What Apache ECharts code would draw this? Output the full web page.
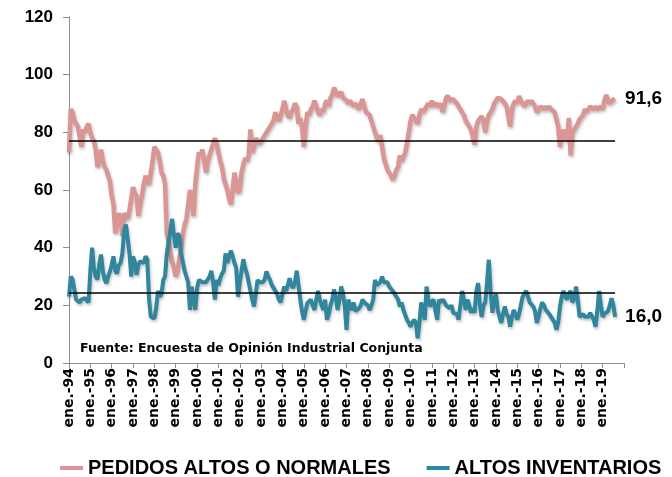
<!DOCTYPE html>
<html>
<head>
<meta charset="utf-8">
<script src="https://cdn.jsdelivr.net/npm/echarts@6/dist/echarts.min.js"></script>
<style>html,body{margin:0;padding:0;background:#fff;}#c{width:672px;height:477px;}</style>
</head>
<body>
<div id="c"></div>
<script>
// Tick labels / categories
const monthNames = ['ene.','feb.','mar.','abr.','may.','jun.','jul.','ago.','sept.','oct.','nov.','dic.'];
const years = ['94','95','96','97','98','99','00','01','02','03','04','05','06','07','08','09','10','11','12','13','14','15','16','17','18','19','20'];
const yTicks = [0, 20, 40, 60, 80, 100, 120];

// Series values (monthly, ene.-94 .. ago.-19)
const pedidos = [
  73, 88, 87, 84, 83, 82, 82, 75, 81, 80, 82, 83,
  80, 78, 77, 74, 68, 70, 74, 70, 68, 67, 65, 63,
  58, 55, 45, 48, 52, 50, 44, 52, 51, 50, 53, 57,
  61, 59, 58, 51, 55, 58, 62, 65, 63, 62, 66, 70,
  75, 74, 73, 70, 66, 65, 62, 45, 42, 38, 35, 33,
  30, 32, 36, 40, 45, 48, 50, 55, 60, 57, 51, 62,
  68, 73, 72, 74, 70, 66, 70, 72, 74, 76, 78, 76,
  73, 70, 68, 64, 62, 60, 57, 55, 60, 66, 63, 59,
  60, 66, 69, 71, 70, 72, 81, 73, 75, 78, 77, 76,
  76, 78, 79, 80, 81, 82, 83, 84, 87, 85, 84, 86,
  88, 91, 88, 86, 85, 87, 88, 90, 89, 83, 85, 82,
  75, 82, 87, 86, 88, 89, 91, 89, 87, 86, 88, 87,
  90, 91, 89, 92, 93, 95.5, 94, 92.6, 93, 94, 92, 92,
  91, 90, 91, 90, 89, 90, 89, 88, 90, 91.5, 89, 87,
  87, 86, 84, 82, 80, 78, 77, 79, 75, 71, 69, 67,
  66, 65, 63.5, 65, 67, 68, 72, 70, 69.5, 73, 76.4, 80,
  84, 86, 85, 84, 83, 86, 88, 87, 88, 89, 90, 89,
  91, 89, 90, 89.7, 89, 90, 87, 89, 92, 92.7, 91, 91.5,
  91.5, 91, 90, 89, 88, 86.9, 86, 84, 83, 82, 81, 81,
  75.8, 82, 84, 84, 85.6, 84, 80, 84, 86, 87, 88, 90,
  91, 92, 92.6, 91.5, 91, 90, 89, 89, 82, 88, 90, 91,
  90, 92.6, 91, 90, 89, 89, 91, 90, 91, 91.5, 89, 86.9,
  88, 89, 89, 88, 89, 88, 89, 88, 88, 87, 84.5, 82,
  75, 81, 77.6, 81, 77, 85, 72, 80, 81, 82, 83, 84.5,
  84, 86, 88, 87, 88, 89, 89, 88, 89, 88, 88, 89,
  88, 91, 93, 91, 90, 91, 91, 91.6
];
const inventarios = [
  23, 30, 29, 29, 22, 22, 21, 22, 22, 22.5, 22, 21,
  32, 40, 33, 30, 29, 34, 37.6, 32, 29, 27.7, 30, 31.8,
  34, 37, 32, 31, 34, 34.7, 38, 46, 48, 43, 38, 30,
  37, 35, 30.6, 34, 35.3, 35, 34.7, 37, 36, 22, 16, 15.5,
  15.5, 19, 25, 23, 24, 28.8, 30, 38, 42, 46, 50, 44,
  40, 45, 44, 38, 35, 32, 30, 28, 18.4, 26.5, 22, 18.4,
  26, 28.8, 29.4, 28, 28, 28, 29, 30, 32, 28, 22, 28.8,
  27, 29.4, 31, 32, 38, 34.7, 35, 39, 37, 34.7, 33, 23,
  28, 32, 36, 33, 31, 28, 25, 22, 19.6, 24, 28.8, 28,
  27.7, 28, 29, 31.8, 30, 28.8, 27, 26.5, 25, 24, 22, 21,
  24, 26.5, 25, 27, 29.4, 27, 26, 28, 32, 27, 22, 18,
  15, 18, 20.8, 21, 22, 20, 18.4, 22, 25, 22, 20, 18.4,
  22, 15, 17, 20, 22, 25.5, 23, 18.4, 22, 26.5, 24, 20,
  11.5, 22, 20, 18.4, 21, 18, 18, 19, 20, 22, 21, 21,
  20, 18.4, 20, 22, 28.8, 27, 26.5, 28, 30, 28, 27.7, 28,
  26.5, 26, 25, 24, 23, 22, 19.6, 21, 18.4, 18, 15, 14,
  12.6, 14, 15, 14, 8.6, 14, 21, 18, 15, 26.5, 22, 19.6,
  21.3, 22, 18, 15, 22, 21, 22, 21.3, 20, 19.6, 19, 20,
  17.4, 18, 17, 15, 20, 25, 22, 18.4, 22, 20, 17.4, 19,
  17.4, 25, 27.7, 20, 16, 20, 21, 28, 35.8, 25, 17.4, 22,
  24, 18.4, 16, 13.9, 17, 19.6, 17, 16, 12.6, 16, 18.4, 17,
  15, 17, 20, 23, 24, 25, 23, 21, 21, 19.6, 18, 13.9,
  16, 19, 21, 20, 18.4, 18, 17, 16, 16, 14, 11.5, 14,
  19.6, 23, 25, 23, 22, 24, 25, 21, 22, 26.5, 22, 16,
  16, 17, 16, 15.5, 16, 17.4, 17, 15, 12.6, 18, 25, 20,
  16, 17, 17.4, 18, 20, 22.5, 20, 16
];
const promedioPedidos = 77.2;
const promedioInventarios = 24.2;
const seriesNames = ['PEDIDOS ALTOS O NORMALES', 'ALTOS INVENTARIOS'];
const fuente = 'Fuente: Encuesta de Opinión Industrial Conjunta';

// Build categories ene.-94 .. ene.-20
const categories = [];
years.forEach((y, i) => {
  monthNames.forEach((m, j) => {
    if (i === years.length - 1 && j > 0) return;
    categories.push(m + '-' + y);
  });
});
const lastIdx = pedidos.length - 1;

const fmt = v => v.toFixed(1).replace('.', ',');
const avgLine = (v) => ({
  silent: true,
  symbol: 'none',
  label: {show: false},
  lineStyle: {color: '#000', width: 1.5, type: 'solid'},
  data: [[{coord: [categories[0], v]}, {coord: [categories[lastIdx], v]}]]
});

const chart = echarts.init(document.getElementById('c'), null, {renderer: 'canvas'});
chart.setOption({
  animation: false,
  backgroundColor: '#fff',
  grid: {left: 69, right: 48, top: 17, bottom: 114, containLabel: false},
  xAxis: {
    type: 'category',
    data: categories,
    boundaryGap: false,
    axisLine: {lineStyle: {color: '#8c8c8c', width: 1}},
    axisTick: {show: true, length: 5, interval: (i) => i % 12 === 0, lineStyle: {color: '#8c8c8c'}},
    axisLabel: {
      interval: (i) => i % 12 === 0 && i < categories.length - 1,
      rotate: 90, margin: 5,
      color: '#000', fontFamily: 'DejaVu Sans', fontWeight: 'bold', fontSize: 14
    },
    splitLine: {show: false}
  },
  yAxis: {
    type: 'value', min: yTicks[0], max: yTicks[yTicks.length - 1], interval: yTicks[1] - yTicks[0],
    axisLine: {show: true, lineStyle: {color: '#8c8c8c', width: 1}},
    axisTick: {show: true, length: 6, inside: false, lineStyle: {color: '#8c8c8c'}},
    axisLabel: {color: '#000', fontFamily: 'Liberation Sans', fontWeight: 'bold', fontSize: 17, margin: 16},
    splitLine: {show: false}
  },
  legend: {
    left: 55, top: 453, width: 640,
    itemGap: 36, itemWidth: 23, itemHeight: 4,
    icon: 'rect',
    textStyle: {color: '#000', fontFamily: 'Liberation Sans', fontWeight: 'bold', fontSize: 20},
    data: seriesNames
  },
  graphic: [{
    type: 'text', left: 80, top: 342,
    style: {text: fuente, fill: '#000', font: 'bold 12.5px "DejaVu Sans"'}
  }],
  series: [
    {
      name: seriesNames[0], type: 'line', data: pedidos, showSymbol: false, symbol: 'none',
      lineStyle: {color: '#DA9694', width: 4.5, shadowColor: 'rgba(0,0,0,0.25)', shadowBlur: 3, shadowOffsetX: 1, shadowOffsetY: 2},
      itemStyle: {color: '#DA9694'},
      endLabel: {show: true, formatter: (p) => fmt(p.value), color: '#000', fontFamily: 'Liberation Sans', fontWeight: 'bold', fontSize: 19, distance: 10},
      markLine: avgLine(promedioPedidos),
      z: 2
    },
    {
      name: seriesNames[1], type: 'line', data: inventarios, showSymbol: false, symbol: 'none',
      lineStyle: {color: '#31859C', width: 4, shadowColor: 'rgba(0,0,0,0.25)', shadowBlur: 3, shadowOffsetX: 1, shadowOffsetY: 2},
      itemStyle: {color: '#31859C'},
      endLabel: {show: true, formatter: (p) => fmt(p.value), color: '#000', fontFamily: 'Liberation Sans', fontWeight: 'bold', fontSize: 19, distance: 10},
      markLine: avgLine(promedioInventarios),
      z: 3
    }
  ]
});
</script>
</body>
</html>
